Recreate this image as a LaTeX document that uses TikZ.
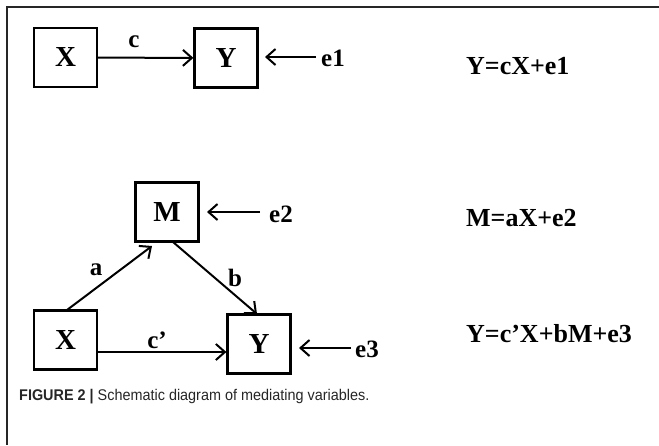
\documentclass[tikz,border=0pt]{standalone}
\usepackage{fontspec}
\setmainfont{Liberation Serif}
\newfontfamily\capfont{Liberation Sans}
\usetikzlibrary{arrows.meta}
\begin{document}
\begin{tikzpicture}[x=1pt,y=-1pt,
  box/.style={draw,line width=2.2pt,minimum width=63pt,minimum height=59pt,inner sep=0pt,font=\fontsize{29}{29}\selectfont\bfseries},
  lbl/.style={font=\fontsize{25}{25}\selectfont\bfseries,inner sep=0pt},
  eqn/.style={font=\fontsize{26}{26}\selectfont\bfseries,inner sep=0pt,anchor=west},
  arr/.style={line width=2pt,-{Straight Barb[length=9pt,width=16pt,line width=2pt]}}]
\useasboundingbox (0,0) rectangle (659,445);
\draw[line width=1.5pt,black!85] (659,7) -- (7,7) -- (7,445);
% top
\node[box] (x1) at (65.5,57.5) {X};
\node[box] (y1) at (226,58) {Y};
\node[lbl,anchor=west] (e1) at (321,58) {e1};
\draw[arr] (x1) -- (y1);
\node[lbl] (c) at (134,42) {c};
\coordinate (e1s) at (316,57);
\coordinate (e1t) at (265,57);
\draw[arr] (e1s) -- (e1t);
\node[eqn] (eq1) at (466,66) {Y=cX+e1};
% bottom
\node[box] (m) at (167,212) {M};
\node[box] (x2) at (65.5,340) {X};
\node[box] (y2) at (259,344) {Y};
\node[lbl,anchor=west] (e2) at (269,214) {e2};
\node[lbl,anchor=west] (e3) at (355,349) {e3};
\coordinate (xa) at (67,310);
\coordinate (ma) at (152,246);
\draw[arr] (xa) -- (ma);
\coordinate (mb) at (173,242);
\coordinate (yb) at (257,314);
\draw[arr] (mb) -- (yb);
\draw[arr] (x2.east |- 0,352) -- (y2.west |- 0,352);
\node[lbl] (a) at (96,270) {a};
\node[lbl] (b) at (235,278) {b};
\node[lbl] (cp) at (157,340) {c’};
\coordinate (e2s) at (260,212);
\coordinate (e2t) at (207,212);
\draw[arr] (e2s) -- (e2t);
\coordinate (e3s) at (351,348);
\coordinate (e3t) at (299,348);
\draw[arr] (e3s) -- (e3t);
\node[eqn] (eq2) at (466,218) {M=aX+e2};
\node[eqn] (eq3) at (466,334) {Y=c’X+bM+e3};
\node[anchor=west,inner sep=0pt,font=\capfont\fontsize{15.5}{15.5}\selectfont,black!85] (cap) at (19,397) {\scalebox{0.93}[1]{\textbf{FIGURE 2 |} Schematic diagram of mediating variables.}};
\end{tikzpicture}
\end{document}
